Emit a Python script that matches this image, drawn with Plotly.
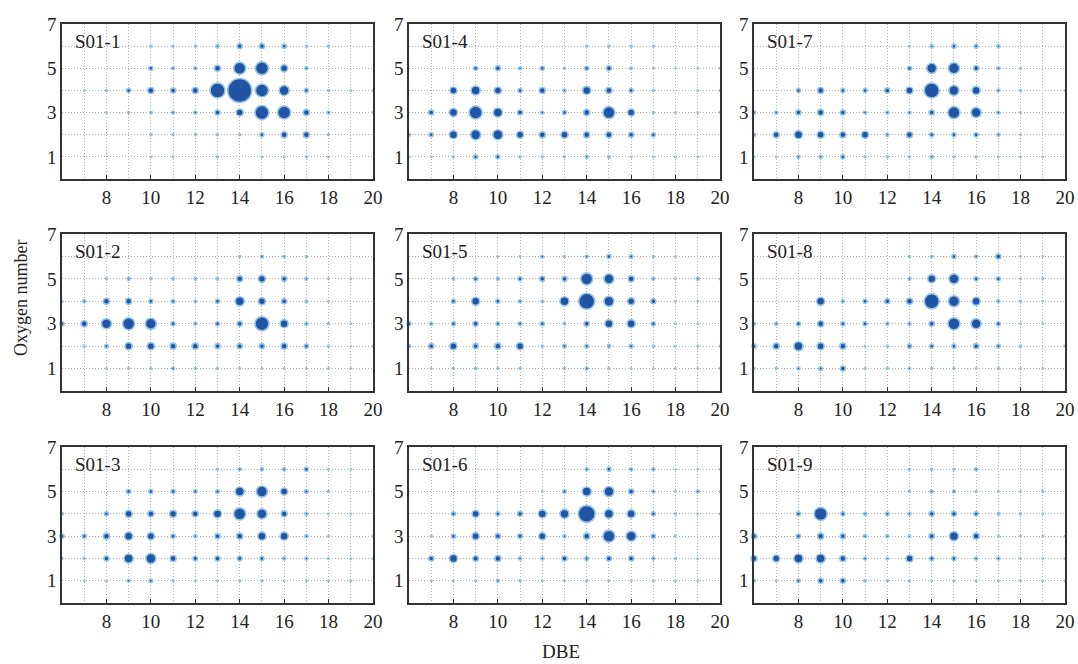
import plotly.graph_objects as go

# DBE values (columns) and oxygen numbers (rows, top to bottom)
dbe = [6, 7, 8, 9, 10, 11, 12, 13, 14, 15, 16, 17, 18, 19, 20]
oxygen = [6, 5, 4, 3, 2, 1]

# Relative intensity of each (DBE, O) class per sample, rows ordered O6 -> O1
s01_1 = [
    [0, 0, 0, 0, 2, 2, 2, 3, 5, 5, 4, 2, 2, 0, 0],
    [0, 0, 0, 0, 4, 3, 3, 6, 12, 13, 7, 3, 0, 0, 0],
    [0, 1.5, 2, 4, 6, 5, 6, 15, 24, 13, 10, 4, 2, 1.5, 1.5],
    [0, 0, 1.5, 2, 2.5, 3, 3, 5, 7, 14, 13, 6, 3, 0, 1.5],
    [0, 0, 0, 0, 2, 2, 2, 2, 2, 4, 6, 6, 2, 0, 0],
    [0, 0, 0, 0, 1.5, 1.5, 0, 2, 0, 1.5, 1.5, 2, 1.5, 0, 0],
]
s01_2 = [
    [0, 0, 0, 0, 0, 0, 0, 0, 2, 3, 2.5, 2, 0, 0, 0],
    [0, 0, 2, 3, 2, 2.5, 2.5, 2.5, 6, 7, 5, 3, 1.5, 1.5, 0],
    [2, 3, 6, 6, 4, 3.5, 2.5, 4, 9, 7, 5, 2.5, 1.5, 0, 0],
    [4, 6, 10, 12, 11, 4, 3, 4, 5, 14, 8, 3, 2, 1.5, 0],
    [0, 2, 3.5, 7, 7, 6, 6, 5, 5, 5, 6, 4, 2, 1, 1.5],
    [0, 0, 1.5, 2, 2, 3, 2, 2, 1.5, 1.5, 1.5, 1.5, 1.5, 1.5, 0],
]
s01_3 = [
    [0, 0, 0, 0, 0, 0, 0, 2, 3, 3, 3, 4, 1.5, 1.5, 0],
    [0, 0, 0, 4, 4, 4, 3.5, 3.5, 9, 11, 7, 3.5, 2, 0, 0],
    [2.5, 0, 4, 7, 6, 7, 6, 8, 12, 10, 6, 3, 1.5, 1.5, 0],
    [4, 4, 6, 8, 7, 4, 3, 5, 6, 8, 8, 3, 1.5, 0, 1.5],
    [2, 2, 5, 9, 10, 6, 4.5, 5, 4.5, 4, 3, 3, 1.5, 1.5, 1.5],
    [0, 1.5, 1.5, 3, 3.5, 2, 1.5, 1.5, 2, 2, 1.5, 1.5, 1.5, 1.5, 0],
]
s01_4 = [
    [0, 0, 0, 0, 0, 0, 0, 0, 2, 2, 2, 2, 0, 0, 0],
    [0, 0, 0, 4, 5, 3, 4, 2, 4, 5, 2.5, 1.5, 1, 1.5, 1.5],
    [0, 0, 7, 9, 7, 4, 6, 3, 8, 6, 4, 2, 0, 1.5, 1.5],
    [0, 5, 8, 13, 9, 5, 3, 4, 6, 12, 7, 2, 1.5, 1.5, 1.5],
    [3, 4, 8, 10, 10, 7, 6, 7, 6, 6, 5, 4, 0, 0, 0],
    [1.5, 1.5, 2, 4, 4, 2, 2, 2, 3, 2.5, 1.5, 1.5, 1.5, 1.5, 0],
]
s01_5 = [
    [0, 0, 0, 0, 1.5, 1.5, 3, 2, 3, 4, 3.5, 2, 1.5, 0, 0],
    [0, 0, 2.5, 4, 3, 4, 5, 5, 12, 10, 6, 3, 1.5, 3, 1.5],
    [0, 0, 4, 8, 4, 3, 2.5, 9, 16, 10, 7, 5, 1.5, 1.5, 0],
    [4, 3, 4, 5, 3.5, 3.5, 4, 2.5, 5, 8, 8, 4, 1.5, 1.5, 0],
    [3, 5, 7, 5, 6, 7, 2, 3.5, 3.5, 3, 3.5, 2, 1.5, 1.5, 1.5],
    [0, 1.5, 2, 2.5, 2, 2, 0, 2, 3, 2, 1.5, 1.5, 1.5, 1.5, 1.5],
]
s01_6 = [
    [0, 0, 0, 0, 0, 0, 0, 0, 3, 4, 3, 3, 1, 1, 1],
    [0, 0, 0, 0, 0, 0, 1.5, 3.5, 9, 10, 5, 3, 1.5, 3, 1.5],
    [0, 0, 4, 7, 4, 5, 8, 9, 17, 9, 8, 4, 2, 1.5, 1.5],
    [0, 2, 4, 7, 5, 4.5, 7, 3, 6, 12, 10, 4, 2, 0, 0],
    [0, 5, 8, 5.5, 6, 3, 3, 5, 3.5, 5, 5, 3, 2, 1.5, 0],
    [0, 1.5, 1.5, 2, 3, 2, 1.5, 1.5, 2, 1.5, 1.5, 1.5, 1.5, 1.5, 0],
]
s01_7 = [
    [0, 0, 0, 0, 0, 0, 0, 1.5, 3, 4, 3.5, 3, 0, 0, 0],
    [0, 0, 0, 0, 0, 0, 0, 4, 10, 11, 5, 3, 1.5, 0, 0],
    [0, 0, 4, 6, 4, 4, 5, 7, 15, 10, 8, 3, 2, 0, 1],
    [3, 3, 5, 6, 5, 3, 3, 3, 5, 12, 10, 3, 1.5, 0, 0],
    [3, 6, 8, 7, 6, 7, 3, 6, 4, 4, 4, 3, 1.5, 0, 0],
    [1.5, 1.5, 3, 3, 4, 2, 2, 2, 3, 2, 2, 1.5, 1.5, 1.5, 0],
]
s01_8 = [
    [0, 0, 0, 0, 0, 0, 0, 2, 2.5, 4, 3, 5, 1, 1, 0],
    [0, 0, 0, 0, 0, 0, 0, 3, 8, 10, 4, 4, 1.5, 2, 0],
    [0, 0, 0, 8, 3, 4, 5, 6, 15, 11, 8, 3, 2, 1.5, 0],
    [3, 3, 4, 6, 4, 4, 3, 3, 5, 12, 10, 4, 1.5, 1.5, 0],
    [4, 6, 9, 7, 6, 1.5, 2, 4, 4, 4, 5, 3.5, 2, 0, 1.5],
    [2, 2, 3, 3.5, 5, 2, 2, 2.5, 2, 2, 1.5, 2, 1.5, 1.5, 0],
]
s01_9 = [
    [0, 0, 0, 0, 0, 0, 0, 2, 2, 2, 3, 0, 0, 0, 0],
    [0, 0, 0, 0, 0, 0, 0, 2, 3, 3, 2, 1.5, 1.5, 2, 0],
    [0, 0, 4, 13, 4, 3, 3.5, 3, 5, 5, 4, 2.5, 2, 1.5, 0],
    [5, 0, 4, 6, 5, 3, 3, 2.5, 5, 9, 6, 2, 1.5, 1.5, 1],
    [6, 7, 9, 9, 6, 3, 2.5, 7, 4, 4, 3, 3, 1.5, 1.5, 1],
    [2.5, 1.5, 3.5, 5, 5, 2.5, 2, 2, 1.5, 1.5, 1.5, 1.5, 1.5, 1.5, 1],
]

# panels in row-major layout order
panel_names = ["S01-1", "S01-4", "S01-7",
               "S01-2", "S01-5", "S01-8",
               "S01-3", "S01-6", "S01-9"]
panel_data = [s01_1, s01_4, s01_7,
              s01_2, s01_5, s01_8,
              s01_3, s01_6, s01_9]

x_ticks = [8, 10, 12, 14, 16, 18, 20]
y_ticks = [1, 3, 5, 7]

W, H = 1078, 664
col_px = [(62, 373), (409, 720), (754, 1065)]
row_px = [(24, 179), (234, 391), (447, 603)]

font_family = "Liberation Serif, Times New Roman, serif"
tick_size = 19
fig = go.Figure()
layout = dict(
    width=W, height=H,
    margin=dict(l=0, r=0, t=0, b=0),
    paper_bgcolor="white", plot_bgcolor="white",
    showlegend=False,
    font=dict(family=font_family, size=tick_size, color="#222"),
)
annotations = []
grid_style = dict(showgrid=True, gridcolor="#b0b0b0", griddash="1px,2px", gridwidth=1)

for i, (name, grid) in enumerate(zip(panel_names, panel_data)):
    r, c = divmod(i, 3)
    xs, ys, ss = [], [], []
    for oi, row in enumerate(grid):
        for di, val in enumerate(row):
            if val > 0:
                xs.append(dbe[di])
                ys.append(oxygen[oi])
                ss.append(val)
    k = "" if i == 0 else str(i + 1)
    fig.add_trace(go.Scatter(
        x=xs, y=ys, mode="markers",
        xaxis="x" + k, yaxis="y" + k,
        marker=dict(size=ss, sizemode="diameter", sizeref=1,
                    color="#2254a5", opacity=1,
                    line=dict(color="#93c4e6", width=1.6)),
        cliponaxis=False,
        hoverinfo="x+y",
    ))
    x0, x1 = col_px[c]
    y0, y1 = row_px[r]
    axis_common = dict(
        showline=True, mirror=True, linecolor="#333", linewidth=1.5,
        zeroline=False, automargin=False,
        tickfont=dict(family=font_family, size=tick_size, color="#222"),
        **grid_style,
    )
    layout["xaxis" + k] = dict(
        axis_common, domain=[x0 / W, x1 / W], range=[6, 20],
        tickmode="array", tickvals=x_ticks,
        ticks="inside", ticklen=4, tickwidth=1.2, tickcolor="#333",
        minor=dict(dtick=1, tick0=0, ticks="", **grid_style),
        anchor="y" + k,
    )
    layout["yaxis" + k] = dict(
        axis_common, domain=[1 - y1 / H, 1 - y0 / H], range=[0, 7],
        tickmode="array", tickvals=y_ticks, ticks="",
        minor=dict(dtick=1, tick0=0, ticks="", **grid_style),
        anchor="x" + k,
    )
    annotations.append(dict(
        text=name, xref=("x" + k) + " domain", yref=("y" + k) + " domain",
        x=0.035, y=0.97, xanchor="left", yanchor="top", showarrow=False,
        font=dict(family=font_family, size=tick_size, color="#222"),
    ))

annotations.append(dict(
    text="Oxygen number", xref="paper", yref="paper",
    x=21 / W, y=1 - 298 / H, textangle=-90, showarrow=False,
    xanchor="center", yanchor="middle",
    font=dict(family=font_family, size=18, color="#222"),
))
annotations.append(dict(
    text="DBE", xref="paper", yref="paper",
    x=561 / W, y=1 - 651 / H, showarrow=False,
    xanchor="center", yanchor="middle",
    font=dict(family=font_family, size=19, color="#222"),
))
layout["annotations"] = annotations
fig.update_layout(**layout)
fig.write_html("out.html")
